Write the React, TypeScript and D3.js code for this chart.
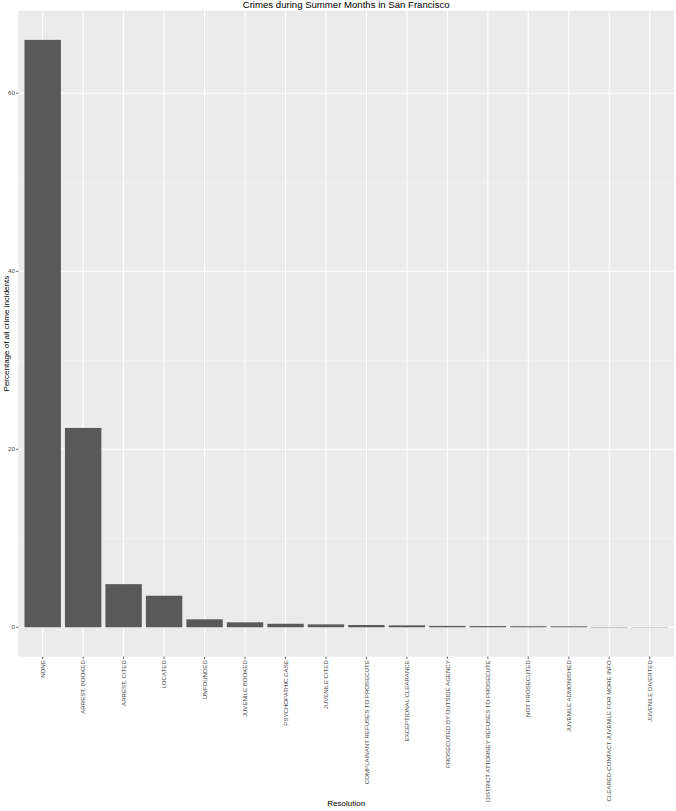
import React from "react";
import * as d3 from "d3";

const categories = [
  "NONE",
  "ARREST, BOOKED",
  "ARREST, CITED",
  "LOCATED",
  "UNFOUNDED",
  "JUVENILE BOOKED",
  "PSYCHOPATHIC CASE",
  "JUVENILE CITED",
  "COMPLAINANT REFUSES TO PROSECUTE",
  "EXCEPTIONAL CLEARANCE",
  "PROSECUTED BY OUTSIDE AGENCY",
  "DISTRICT ATTORNEY REFUSES TO PROSECUTE",
  "NOT PROSECUTED",
  "JUVENILE ADMONISHED",
  "CLEARED-CONTACT JUVENILE FOR MORE INFO",
  "JUVENILE DIVERTED",
];
const percentages = [66.0, 22.4, 4.85, 3.55, 0.9, 0.56, 0.4, 0.33, 0.26, 0.22, 0.16, 0.14, 0.12, 0.11, 0.04, 0.03];
const yTicks = [0, 20, 40, 60];
const yMinorTicks = [10, 30, 50];
const title = "Crimes during Summer Months in San Francisco";
const xTitle = "Resolution";
const yTitle = "Percentage of all crime incidents";

const W = 676;
const H = 811;
const panel = { left: 18.4, right: 674, top: 10.5, bottom: 656.7 };

export default function App() {
  const maxV = d3.max(percentages) as number;
  const pad = maxV * 0.05;
  const y = d3.scaleLinear().domain([-pad, maxV + pad]).range([panel.bottom, panel.top]);
  const x = d3
    .scaleBand<string>()
    .domain(categories)
    .range([panel.left, panel.right])
    .paddingInner(0.1)
    .paddingOuter(0.15);
  const bw = x.bandwidth();
  const cx = (c: string) => (x(c) as number) + bw / 2;
  const font = "Liberation Sans, Arial, Helvetica, sans-serif";

  return (
    <svg width={W} height={H} style={{ position: "absolute", left: 0, top: 0 }} fontFamily={font}>
      <rect x={0} y={0} width={W} height={H} fill="#ffffff" />
      <rect
        x={panel.left}
        y={panel.top}
        width={panel.right - panel.left}
        height={panel.bottom - panel.top}
        fill="#EBEBEB"
      />
      {yMinorTicks.map((t) => (
        <line key={"mn" + t} x1={panel.left} x2={panel.right} y1={y(t)} y2={y(t)} stroke="#F5F5F5" strokeWidth={0.55} />
      ))}
      {yTicks.map((t) => (
        <line key={"mj" + t} x1={panel.left} x2={panel.right} y1={y(t)} y2={y(t)} stroke="#ffffff" strokeWidth={1.1} />
      ))}
      {categories.map((c) => (
        <line key={"vg" + c} x1={cx(c)} x2={cx(c)} y1={panel.top} y2={panel.bottom} stroke="#ffffff" strokeWidth={1.1} />
      ))}
      {categories.map((c, i) => (
        <rect
          key={"b" + c}
          x={x(c) as number}
          y={y(percentages[i])}
          width={bw}
          height={Math.max(0, y(0) - y(percentages[i]))}
          fill="#595959"
        />
      ))}
      {yTicks.map((t) => (
        <g key={"yt" + t}>
          <line x1={panel.left - 2.2} x2={panel.left} y1={y(t)} y2={y(t)} stroke="#333333" strokeWidth={0.8} />
          <text x={panel.left - 3.5} y={y(t)} dy="0.35em" textAnchor="end" fontSize={6.2} fill="#4D4D4D">
            {t}
          </text>
        </g>
      ))}
      {categories.map((c) => (
        <g key={"xt" + c}>
          <line x1={cx(c)} x2={cx(c)} y1={panel.bottom} y2={panel.bottom + 2.2} stroke="#333333" strokeWidth={0.8} />
          <text
            transform={`translate(${cx(c)},${panel.bottom + 3.5}) rotate(-90)`}
            dy="0.35em"
            textAnchor="end"
            fontSize={6.1}
            fill="#4D4D4D"
          >
            {c}
          </text>
        </g>
      ))}
      <text x={(panel.left + panel.right) / 2} y={8} textAnchor="middle" fontSize={9.6} fill="#000">
        {title}
      </text>
      <text x={(panel.left + panel.right) / 2} y={806} textAnchor="middle" fontSize={8} fill="#000">
        {xTitle}
      </text>
      <text
        transform={`translate(8.5,${(panel.top + panel.bottom) / 2}) rotate(-90)`}
        textAnchor="middle"
        fontSize={8}
        fill="#000"
      >
        {yTitle}
      </text>
    </svg>
  );
}
